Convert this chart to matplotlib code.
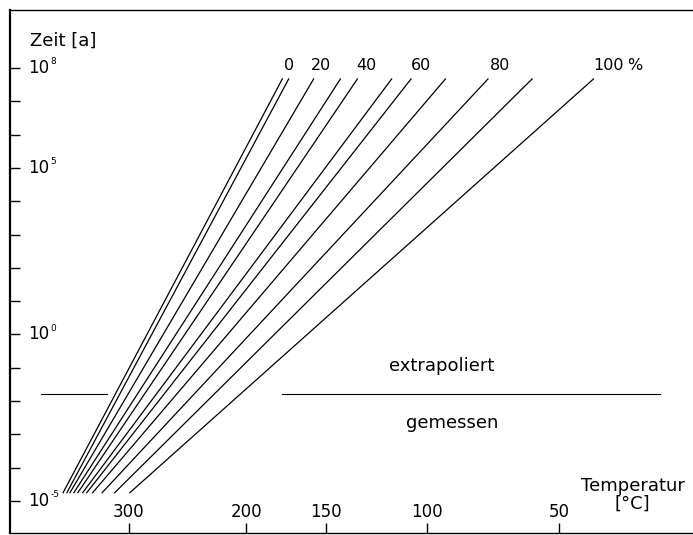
import numpy as np
import matplotlib
matplotlib.use("Agg")
import matplotlib.pyplot as plt

# ---- data ----
percent = [0, 10, 20, 30, 40, 50, 60, 70, 80, 90, 100]
# temperature (°C) at start (short time) and end (long time) of each line
t_low_log = -4.75          # log10 time [a] at lower end of lines
t_high_log = 7.67          # log10 time [a] at upper end of lines
temp_start = [377, 372, 368, 363, 358, 352, 347, 340, 329, 315, 299]
temp_end = [176, 172, 157, 142, 133, 116, 107, 92, 75, 59, 39]
label_percent = [0, 20, 40, 60, 80, 100]

x_ticks_temp = [300, 200, 150, 100, 50]
y_ticks_exp = list(range(-5, 9))
y_label_exp = [-5, 0, 5, 8]

# boundary measured / extrapolated
boundary_log = -1.79
boundary_segments = [(408, 323), (176, 20)]


def inv(tc):
    return 1000.0 / (np.asarray(tc, dtype=float) + 273.15)


fig = plt.figure(figsize=(6.93, 5.35), dpi=100)
ax = fig.add_axes([10 / 693, 2 / 535, 682 / 693, 523 / 535])
ax.set_yscale("log")
ax.set_xlim(1.3714, 3.5128)
ax.set_ylim(10 ** -5.96, 10 ** 9.74)

lw = 0.9
for p, ts, te in zip(percent, temp_start, temp_end):
    ax.plot(inv([ts, te]), [10 ** t_low_log, 10 ** t_high_log], color="black", lw=lw)

# percent labels above the line tops
for p in label_percent:
    i = percent.index(p)
    u0, u1 = inv(temp_start[i]), inv(temp_end[i])
    ext = 0.4
    slope = (u1 - u0) / (t_high_log - t_low_log)
    ux = u1 + slope * ext
    ax.text(ux, 10 ** (t_high_log + ext), str(p), ha="center", va="center",
            fontsize=11.5)
    if p == 100:
        ax.annotate("%", (ux, 10 ** (t_high_log + ext)), xytext=(19, 0),
                    textcoords="offset points", ha="center", va="center",
                    fontsize=11.5)

# boundary line
for a, b in boundary_segments:
    ax.plot(inv([a, b]), [10 ** boundary_log] * 2, color="black", lw=0.8)

ax.text(0.633, 0.319, "extrapoliert", transform=ax.transAxes, ha="center",
        va="center", fontsize=13)
ax.text(0.648, 0.210, "gemessen", transform=ax.transAxes, ha="center",
        va="center", fontsize=13)

# spines
ax.spines["right"].set_visible(False)
for s in ["left", "top", "bottom"]:
    ax.spines[s].set_color("black")
ax.spines["left"].set_linewidth(1.6)
ax.spines["top"].set_linewidth(1.0)
ax.spines["bottom"].set_linewidth(1.0)

# y ticks (inside) with labels inside the frame
ax.set_yticks([10.0 ** e for e in y_ticks_exp])
ax.yaxis.set_minor_locator(matplotlib.ticker.NullLocator())
ax.set_yticklabels([])
ax.tick_params(axis="y", direction="in", length=7, width=1.0)
ytr = ax.get_yaxis_transform()
for e in y_label_exp:
    ax.text(0.027, 10.0 ** e, "10", transform=ytr, ha="left", va="center",
            fontsize=12)
    ax.annotate(str(e), (0.027, 10.0 ** e), xycoords=ytr,
                xytext=(15.8, 4.5), textcoords="offset points",
                ha="left", va="center", fontsize=6.5)

# x ticks (inside) with labels above
ax.set_xticks(inv(x_ticks_temp))
ax.set_xticklabels([])
ax.tick_params(axis="x", direction="in", length=7, width=1.0)
for t in x_ticks_temp:
    ax.text(inv(t), 0.040, str(t), transform=ax.get_xaxis_transform(),
            ha="center", va="center", fontsize=12)

ax.text(0.029, 0.941, "Zeit [a]", transform=ax.transAxes, ha="left",
        va="center", fontsize=13)
ax.text(0.913, 0.073, "Temperatur\n[°C]", transform=ax.transAxes, ha="center",
        va="center", fontsize=13, linespacing=1.0)

fig.savefig("out.png", dpi=100)
